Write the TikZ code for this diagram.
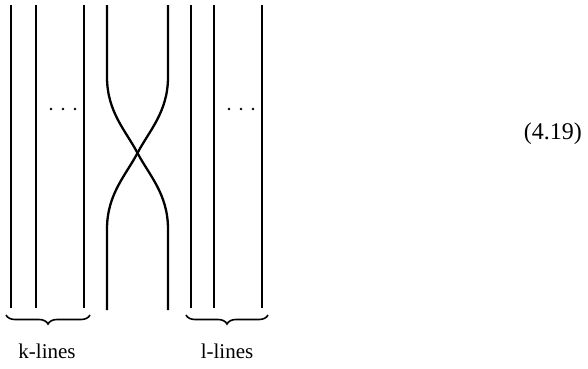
\documentclass[tikz,border=0pt]{standalone}
\usepackage{fontspec}
\setmainfont{Liberation Serif}
\usetikzlibrary{decorations.pathreplacing}
\begin{document}
\begin{tikzpicture}[x=1pt,y=-1pt,
  strand/.style={line width=2.3pt},
  dotmark/.style={fill=black,draw=none},
  bracestyle/.style={line width=1.6pt,decorate,decoration={brace,mirror,amplitude=9pt,aspect=0.5}},
  lbl/.style={font=\fontsize{21}{24}\selectfont,inner sep=0pt}]
\useasboundingbox (0,0) rectangle (588,368);
% straight lines
\foreach \x in {11,36,84,191,214,262}{
  \draw[strand] (\x,5) -- (\x,308);
}
% crossing strands
\coordinate (ltop) at (107,5);
\coordinate (rtop) at (168,5);
\coordinate (lbot) at (107,310);
\coordinate (rbot) at (168,310);
\coordinate (cross) at (137.5,153);
\draw[strand] (ltop) -- (107,77) .. controls (107,112) and (126,131) .. (cross)
  .. controls (149,175) and (168,194) .. (168,229) -- (rbot);
\draw[strand] (rtop) -- (168,77) .. controls (168,112) and (149,131) .. (cross)
  .. controls (126,175) and (107,194) .. (107,229) -- (lbot);
% dots
\foreach \x in {51,63,75,229,241,253}{
  \fill[dotmark] (\x,109) circle (1.3);
}
% braces
\coordinate (bl1) at (6,315);
\coordinate (bl2) at (90,315);
\coordinate (br1) at (186,315);
\coordinate (br2) at (268,315);
\draw[bracestyle] (bl1) -- (bl2);
\draw[bracestyle] (br1) -- (br2);
\node[lbl] (kl) at (47,351) {k-lines};
\node[lbl] (ll) at (227,351) {l-lines};
\node[lbl,font=\fontsize{24}{28}\selectfont,anchor=east] (eq) at (582,134) {(4.19)};
\end{tikzpicture}
\end{document}
